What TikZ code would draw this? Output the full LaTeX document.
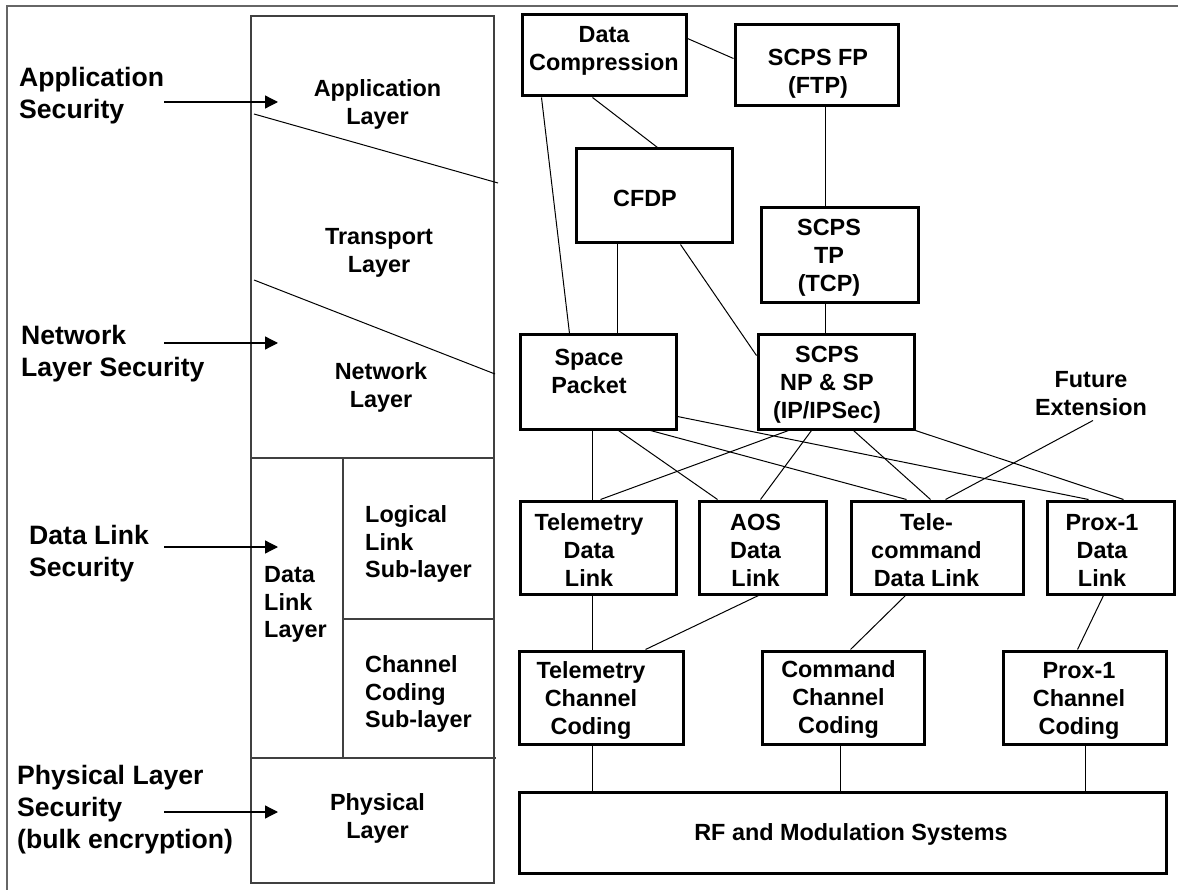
\documentclass[tikz,border=0pt]{standalone}
\usepackage{fontspec}
\setmainfont{Liberation Sans}
\usetikzlibrary{arrows.meta,calc}
\begin{document}
\begin{tikzpicture}[x=1pt,y=-1pt,
  box/.style={draw,line width=3pt,inner sep=0pt},
  txt/.style={font=\bfseries\fontsize{23.4}{28}\selectfont,align=center,inner sep=0pt},
  ltxt/.style={font=\bfseries\fontsize{23.4}{27.5}\selectfont,align=left,inner sep=0pt,anchor=west},
  sec/.style={font=\bfseries\fontsize{26.6}{32}\selectfont,align=left,inner sep=0pt,anchor=west},
  conn/.style={line width=1pt},
  stackline/.style={line width=1.3pt,draw=black!75},
  secarrow/.style={line width=1.3pt,-{Triangle[length=13pt,width=13pt]}}
]
\useasboundingbox (0,0) rectangle (1178,890);
\fill[white] (0,0) rectangle (1178,890);
% outer frame (left and top edges visible)
\draw[line width=1.5pt,draw=black!60] (1178,6) -- (7,6) -- (7,890);

% ---- left layer stack ----
\draw[stackline] (251,16) rectangle (494,883);
\draw[stackline] (251,458) -- (494,458);
\draw[stackline] (343,458) -- (343,758);
\draw[stackline] (343,619) -- (494,619);
\draw[stackline] (251,758) -- (496,758);
\draw[conn] (254,114) -- (498,183);
\draw[conn] (254,280) -- (495,374);

\node[txt] (appl) at (377.5,104.5) {Application\\Layer};
\node[txt] (trl) at (379,252.5) {Transport\\Layer};
\node[txt] (netl) at (381,387.5) {Network\\Layer};
\node[ltxt] (dll) at (264,604.5) {Data\\Link\\Layer};
\node[ltxt] (llc) at (365,544) {Logical\\Link\\Sub-layer};
\node[ltxt] (ccs) at (365,694) {Channel\\Coding\\Sub-layer};
\node[txt] (phl) at (377.5,818) {Physical\\Layer};

% ---- security labels ----
\node[sec] (appsec) at (19,96) {Application\\Security};
\node[sec] (netsec) at (21,353.5) {Network\\Layer Security};
\node[sec] (dlsec) at (29,554) {Data Link\\Security};
\node[sec] (physec) at (17,810) {Physical Layer\\Security\\(bulk encryption)};

\coordinate (a1s) at (164,102); \coordinate (a1e) at (278,102);
\coordinate (a2s) at (164,343); \coordinate (a2e) at (278,343);
\coordinate (a3s) at (164,547); \coordinate (a3e) at (278,547);
\coordinate (a4s) at (164,812); \coordinate (a4e) at (278,812);
\draw[secarrow] (a1s) -- (a1e);
\draw[secarrow] (a2s) -- (a2e);
\draw[secarrow] (a3s) -- (a3e);
\draw[secarrow] (a4s) -- (a4e);

% ---- protocol boxes ----
\node[box,minimum width=164pt,minimum height=81pt] (dc) at (604,55.5) {};
\node[box,minimum width=163pt,minimum height=81pt] (fp) at (816.5,65.5) {};
\node[box,minimum width=156pt,minimum height=94pt] (cfdp) at (654,196) {};
\node[box,minimum width=157pt,minimum height=95pt] (tp) at (839.5,255.5) {};
\node[box,minimum width=156pt,minimum height=94pt] (sp) at (598,382) {};
\node[box,minimum width=156pt,minimum height=94pt] (np) at (836,382) {};
\node[box,minimum width=156pt,minimum height=93pt] (tdl) at (598,547.5) {};
\node[box,minimum width=127pt,minimum height=93pt] (aos) at (762.5,547.5) {};
\node[box,minimum width=172pt,minimum height=93pt] (tc) at (937,547.5) {};
\node[box,minimum width=127pt,minimum height=93pt] (pdl) at (1110.5,547.5) {};
\node[box,minimum width=164pt,minimum height=93pt] (tcc) at (601,697.5) {};
\node[box,minimum width=162pt,minimum height=93pt] (ccc) at (843,697.5) {};
\node[box,minimum width=163pt,minimum height=93pt] (pcc) at (1084.5,697.5) {};
\node[box,minimum width=647pt,minimum height=81pt] (rf) at (842.5,832.5) {};

\node[txt] (dct) at (604,51) {Data\\Compression};
\node[txt] (fpt) at (818,74) {SCPS FP\\(FTP)};
\node[txt] (cfdpt) at (645,198) {CFDP};
\node[txt] (tpt) at (829,257.5) {SCPS\\TP\\(TCP)};
\node[txt] (spt) at (589,371) {Space\\Packet};
\node[txt] (npt) at (827,385) {SCPS\\NP \& SP\\(IP/IPSec)};
\node[txt] (fut) at (1091,393.5) {Future\\Extension};
\node[txt] (tdlt) at (589,550) {Telemetry\\Data\\Link};
\node[txt] (aost) at (755.5,550) {AOS\\Data\\Link};
\node[txt] (tct) at (926.5,550) {Tele-\\command\\Data Link};
\node[txt] (pdlt) at (1102,550) {Prox-1\\Data\\Link};
\node[txt] (tcct) at (591,700) {Telemetry\\Channel\\Coding};
\node[txt] (ccct) at (838.5,699) {Command\\Channel\\Coding};
\node[txt] (pcct) at (1079,701) {Prox-1\\Channel\\Coding};
\node[txt] (rft) at (851,834) {RF and Modulation Systems};

% ---- connectors ----
\draw[conn] ($(dc.north east)+(0,25)$) -- ($(fp.north west)+(0,35)$);
\draw[conn] ($(dc.south west)+(72,0)$) -- ($(cfdp.north west)+(83,0)$);
\draw[conn] ($(dc.south west)+(21,0)$) -- ($(sp.north west)+(51,0)$);
\draw[conn] ($(fp.south west)+(92,0)$) -- ($(tp.north west)+(66,0)$);
\draw[conn] ($(cfdp.south west)+(43,0)$) -- ($(sp.north west)+(99,0)$);
\draw[conn] ($(cfdp.south west)+(106,0)$) -- ($(np.north west)+(0,22)$);
\draw[conn] ($(tp.south west)+(66,0)$) -- ($(np.north west)+(69,0)$);

\draw[conn] ($(sp.south west)+(74,0)$) -- ($(tdl.north west)+(74,0)$);
\draw[conn] ($(sp.south west)+(100,0)$) -- ($(aos.north west)+(20,0)$);
\draw[conn] ($(sp.south west)+(132,0)$) -- ($(tc.north west)+(57,0)$);
\draw[conn] ($(sp.south east)+(0,-14)$) -- ($(pdl.north west)+(43,0)$);
\draw[conn] ($(np.south west)+(32,0)$) -- ($(tdl.north west)+(82,0)$);
\draw[conn] ($(np.south west)+(55,0)$) -- ($(aos.north west)+(63,0)$);
\draw[conn] ($(np.south west)+(97,0)$) -- ($(tc.north west)+(81,0)$);
\draw[conn] (np.south east) -- ($(pdl.north west)+(78,0)$);
\draw[conn] ($(fut.center)+(2,27)$) -- ($(tc.north west)+(96,0)$);

\draw[conn] ($(tdl.south west)+(74,0)$) -- ($(tcc.north west)+(75,0)$);
\draw[conn] ($(aos.south west)+(61,0)$) -- ($(tcc.north west)+(128,0)$);
\draw[conn] ($(tc.south west)+(56,0)$) -- ($(ccc.north west)+(90,0)$);
\draw[conn] ($(pdl.south west)+(58,0)$) -- ($(pcc.north west)+(76,0)$);
\draw[conn] ($(tcc.south west)+(75,0)$) -- ($(rf.north west)+(75,0)$);
\draw[conn] ($(ccc.south west)+(80,0)$) -- ($(rf.north west)+(323,0)$);
\draw[conn] ($(pcc.south west)+(84,0)$) -- ($(rf.north west)+(568,0)$);
\end{tikzpicture}
\end{document}
